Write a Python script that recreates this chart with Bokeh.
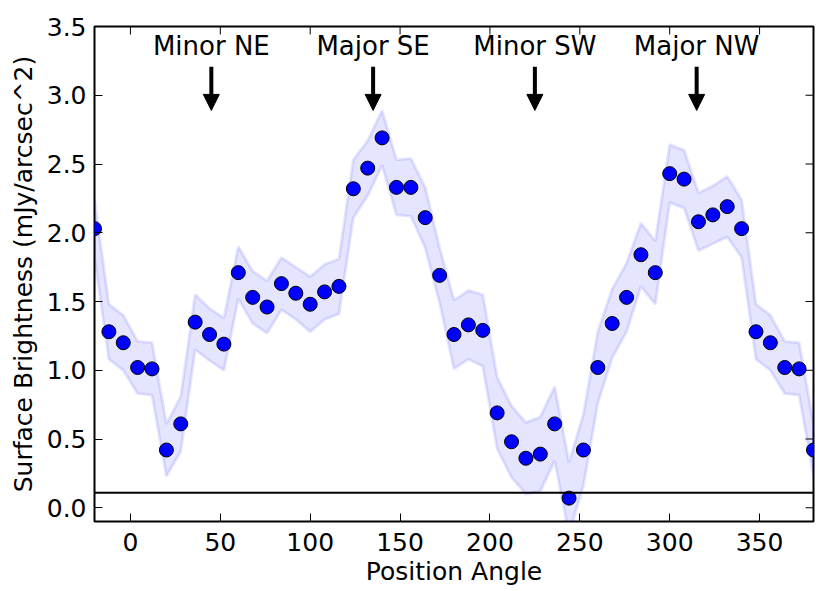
import math
from bokeh.plotting import figure
from bokeh.models import (Range1d, FixedTicker, PrintfTickFormatter,
                          Span, Arrow, NormalHead, ColumnDataSource, LabelSet)
from bokeh.core.properties import value
from bokeh.embed import file_html
from bokeh.resources import INLINE

# ---- data ----
angle = [-20, -12, -4, 4, 12, 20, 28, 36, 44, 52, 60, 68, 76, 84, 92, 100, 108, 116,
         124, 132, 140, 148, 156, 164, 172, 180, 188, 196, 204, 212, 220, 228, 236,
         244, 252, 260, 268, 276, 284, 292, 300, 308, 316, 324, 332, 340, 348, 356,
         364, 372, 380]
brightness = [2.03, 1.28, 1.20, 1.02, 1.01, 0.42, 0.61, 1.35, 1.26, 1.19, 1.71, 1.53,
              1.46, 1.63, 1.56, 1.48, 1.57, 1.61, 2.32, 2.47, 2.69, 2.33, 2.33, 2.11,
              1.69, 1.26, 1.33, 1.29, 0.69, 0.48, 0.36, 0.39, 0.61, 0.07, 0.42, 1.02,
              1.34, 1.53, 1.84, 1.71, 2.43, 2.39, 2.08, 2.13, 2.19, 2.03, 1.28, 1.20,
              1.02, 1.01, 0.42]
error = [0.21, 0.20, 0.20, 0.19, 0.19, 0.19, 0.20, 0.20, 0.19, 0.19, 0.19, 0.19,
         0.19, 0.19, 0.19, 0.20, 0.20, 0.20, 0.21, 0.20, 0.20, 0.20, 0.21, 0.22,
         0.20, 0.25, 0.25, 0.26, 0.26, 0.26, 0.26, 0.27, 0.27, 0.26, 0.26, 0.26,
         0.25, 0.25, 0.23, 0.23, 0.21, 0.21, 0.21, 0.21, 0.22, 0.21, 0.20, 0.20,
         0.19, 0.19, 0.19]
background_level = 0.11

axis_names = ["Minor NE", "Major SE", "Minor SW", "Major NW"]
axis_angles = [45, 135, 225, 315]
label_y = 3.29
arrow_top = 3.207
arrow_tip = 2.89

x_min, x_max = -20, 380
y_min, y_max = -0.1, 3.5
x_ticks = [0, 50, 100, 150, 200, 250, 300, 350]
y_ticks = [0.0, 0.5, 1.0, 1.5, 2.0, 2.5, 3.0, 3.5]

FONT = "DejaVu Sans"

upper = [b + e for b, e in zip(brightness, error)]
lower = [b - e for b, e in zip(brightness, error)]

p = figure(width=830, height=591, output_backend="svg", toolbar_location=None,
           x_range=Range1d(x_min, x_max), y_range=Range1d(y_min, y_max),
           min_border_left=94, min_border_right=17, min_border_top=26,
           min_border_bottom=70, background_fill_color="white",
           border_fill_color="white")
p.grid.visible = False
p.outline_line_color = "black"
p.outline_line_width = 2
p.outline_line_alpha = 1.0

# band
p.patch(angle + angle[::-1], upper + lower[::-1], fill_color="blue", fill_alpha=0.1,
        line_color="blue", line_alpha=0.1, line_width=3)

# background line
p.add_layout(Span(location=background_level, dimension="width", line_color="black",
                  line_width=2))

# points
p.scatter(angle, brightness, size=14, fill_color="blue", line_color="black",
          line_width=1)

# annotations
for a in axis_angles:
    p.add_layout(Arrow(end=NormalHead(size=16, fill_color="black", line_color="black",
                                      line_width=1),
                       x_start=a, y_start=arrow_top, x_end=a, y_end=arrow_tip,
                       line_color="black", line_width=4))
src = ColumnDataSource(dict(x=axis_angles, y=[label_y] * len(axis_angles),
                            t=axis_names))
p.add_layout(LabelSet(x="x", y="y", text="t", source=src, text_align="center",
                      text_baseline="alphabetic", text_font=value(FONT),
                      text_font_size="26px", text_color="black"))

# mirrored inward ticks on top and right edges (half clipped by the frame)
p.scatter(x_ticks, [y_max] * len(x_ticks), marker="dash", size=16,
          angle=math.pi / 2, line_color="black", line_width=1)
p.scatter([x_max] * len(y_ticks), y_ticks, marker="dash", size=16,
          line_color="black", line_width=1)

# axes
xa = p.xaxis[0]
ya = p.yaxis[0]
for ax, ticks in ((xa, x_ticks), (ya, y_ticks)):
    ax.ticker = FixedTicker(ticks=ticks)
    ax.minor_tick_line_color = None
    ax.major_tick_in = 8
    ax.major_tick_out = 0
    ax.major_tick_line_color = "black"
    ax.major_tick_line_width = 1
    ax.axis_line_color = None
    ax.major_label_text_font = FONT
    ax.major_label_text_color = "black"
    ax.major_label_text_font_size = "25px"
    ax.axis_label_text_font = FONT
    ax.axis_label_text_font_size = "25px"
    ax.axis_label_text_font_style = "normal"
    ax.axis_label_text_color = "black"
ya.formatter = PrintfTickFormatter(format="%.1f")
xa.axis_label = "Position Angle"
ya.axis_label = "Surface Brightness (mJy/arcsec^2)"
xa.major_label_standoff = 11
ya.major_label_standoff = 8
xa.axis_label_standoff = 3
ya.axis_label_standoff = 6

open("out.html", "w").write(file_html(p, INLINE))
